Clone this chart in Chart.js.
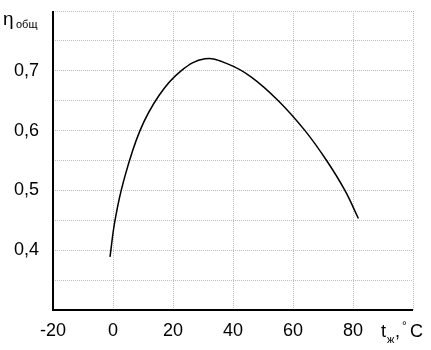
<!DOCTYPE html>
<html><head><meta charset="utf-8">
<script src="https://cdn.jsdelivr.net/npm/chart.js@4"></script>
<style>html,body{margin:0;padding:0;background:#fff}#w{width:431px;height:350px}</style>
</head><body><div id="w"><canvas id="c"></canvas></div>
<script>
const temps = [-1, 0.67, 3.5, 9, 15.5, 22.7, 30.7, 38, 46, 55.1, 64, 71.2, 77.3, 81.8];
const efficiency = [0.389, 0.45, 0.515, 0.6, 0.66, 0.70, 0.72, 0.712, 0.69, 0.65, 0.60, 0.55, 0.50, 0.453];
const xTickLabels = ['-20', '0', '20', '40', '60', '80'];
const yTickLabels = ['0,4', '0,5', '0,6', '0,7'];
const yTitle = ['η', 'общ'];
const xTitle = ['t', 'ж', ',', '°', 'C'];

const FONT = '"Liberation Sans", Arial, sans-serif';
const titles = {
  id: 'titles',
  afterDraw(chart) {
    const ctx = chart.ctx;
    ctx.save();
    ctx.fillStyle = '#000';
    ctx.textBaseline = 'alphabetic';
    ctx.textAlign = 'left';
    ctx.font = '19px ' + FONT;
    ctx.fillText(yTitle[0], 3, 25);
    ctx.font = '11px ' + FONT;
    ctx.fillText(yTitle[1], 16, 28);
    ctx.font = '18px ' + FONT;
    ctx.fillText(xTitle[0], 381, 337);
    ctx.font = '11px ' + FONT;
    ctx.fillText(xTitle[1], 387, 343);
    ctx.font = '18px ' + FONT;
    ctx.fillText(xTitle[2], 395, 337);
    ctx.font = '12px ' + FONT;
    ctx.fillText(xTitle[3], 402, 330);
    ctx.font = '18px ' + FONT;
    ctx.fillText(xTitle[4], 410, 337);
    ctx.restore();
  }
};

const axisLines = {
  id: 'axisLines',
  afterDatasetsDraw(chart) {
    const { ctx, chartArea: a } = chart;
    ctx.save();
    ctx.strokeStyle = '#000';
    ctx.lineWidth = 2;
    ctx.setLineDash([]);
    ctx.beginPath();
    ctx.moveTo(a.left, a.top);
    ctx.lineTo(a.left, a.bottom);
    ctx.lineTo(a.right, a.bottom);
    ctx.stroke();
    ctx.restore();
  }
};

new Chart(document.getElementById('c'), {
  type: 'line',
  data: {
    datasets: [{
      data: temps.map((t, i) => ({ x: t, y: efficiency[i] })),
      borderColor: '#000',
      borderWidth: 1.5,
      pointRadius: 0,
      fill: false,
      tension: 0.4
    }]
  },
  options: {
    responsive: true,
    maintainAspectRatio: false,
    animation: false,
    devicePixelRatio: 1,
    layout: { padding: { top: 11, right: 18, left: 0, bottom: 0 } },
    plugins: { legend: { display: false }, tooltip: { enabled: false } },
    scales: {
      x: {
        type: 'linear', min: -20, max: 100,
        ticks: {
          stepSize: 20, color: '#000', font: { family: FONT, size: 18 }, padding: 10,
          maxRotation: 0,
          callback: (v) => { const s = String(v); return xTickLabels.includes(s) ? s : ''; }
        },
        grid: { color: '#bdbdbd', lineWidth: 1, drawTicks: false },
        border: { display: false, dash: [1, 1] },
        afterFit: (s) => { s.height = 40; s.paddingLeft = 0; s.paddingRight = 0; }
      },
      y: {
        type: 'linear', min: 0.3, max: 0.8,
        ticks: {
          stepSize: 0.05, color: '#000', font: { family: FONT, size: 18 }, padding: 14,
          callback: (v) => { const s = v.toFixed(2); if (s.endsWith('0')) { const l = v.toFixed(1).replace('.', ','); return yTickLabels.includes(l) ? l : ''; } return ''; }
        },
        grid: { color: '#bdbdbd', lineWidth: 1, drawTicks: false },
        border: { display: false, dash: [1, 1] },
        afterFit: (s) => { s.width = 53; s.paddingTop = 0; s.paddingBottom = 0; }
      }
    }
  },
  plugins: [titles, axisLines]
});
</script>
</body></html>
